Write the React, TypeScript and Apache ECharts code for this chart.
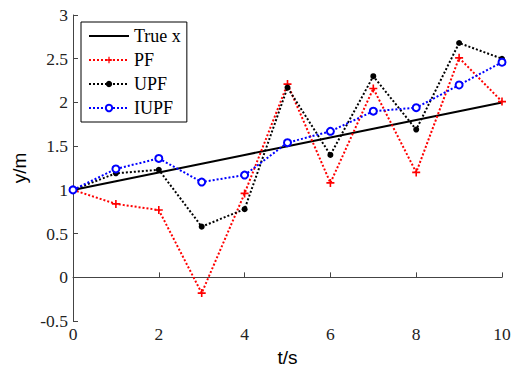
import React, { useEffect, useRef } from "react";
import * as echarts from "echarts";

const tValues = [0, 1, 2, 3, 4, 5, 6, 7, 8, 9, 10];
const trueX = [1.0, 1.1, 1.2, 1.3, 1.4, 1.5, 1.6, 1.7, 1.8, 1.9, 2.0];
const pf = [1.0, 0.84, 0.77, -0.18, 0.96, 2.21, 1.08, 2.16, 1.2, 2.51, 2.01];
const upf = [1.0, 1.19, 1.23, 0.58, 0.78, 2.17, 1.4, 2.3, 1.69, 2.68, 2.5];
const iupf = [1.0, 1.24, 1.36, 1.09, 1.17, 1.54, 1.67, 1.9, 1.94, 2.2, 2.46];
const seriesNames = ["True x", "PF", "UPF", "IUPF"];

const pair = (ys: number[]) => tValues.map((t, i) => [t, ys[i]]);

const plusPath = "path://M3.2,0H4.8V3.2H8V4.8H4.8V8H3.2V4.8H0V3.2H3.2Z";
const solidLineIcon = "path://M0,0H40V2H0Z";

export default function App() {
  const ref = useRef<HTMLDivElement>(null);
  useEffect(() => {
    if (!ref.current) return;
    const chart = echarts.init(ref.current, null, { renderer: "svg" });
    const serif = "Liberation Serif";
    const sans = "Liberation Sans";
    const axisColor = "#444";
    chart.setOption({
      animation: false,
      backgroundColor: "#fff",
      grid: { left: 73, right: 12, top: 15, bottom: 42 },
      legend: {
        orient: "vertical",
        left: 81,
        top: 22,
        data: seriesNames.map((n, i) => (i === 0 ? { name: n, icon: solidLineIcon } : { name: n })),
        itemWidth: 40,
        itemHeight: 8,
        itemGap: 6,
        padding: [5, 6, 5, 7],
        borderColor: "#000",
        borderWidth: 1,
        backgroundColor: "#fff",
        textStyle: { fontFamily: serif, fontSize: 18, color: "#000", lineHeight: 16 },
      },
      xAxis: {
        type: "value",
        min: 0,
        max: 10,
        interval: 2,
        name: "t/s",
        nameLocation: "middle",
        nameGap: 20,
        nameTextStyle: { fontFamily: sans, fontSize: 19, color: "#000" },
        axisLine: { lineStyle: { color: axisColor, width: 1 } },
        axisTick: { inside: true, length: 5, lineStyle: { color: axisColor } },
        axisLabel: { fontFamily: serif, fontSize: 17.5, color: "#222", margin: 4 },
        splitLine: { show: false },
      },
      yAxis: {
        type: "value",
        min: -0.5,
        max: 3,
        interval: 0.5,
        name: "y/m",
        nameLocation: "middle",
        nameGap: 37,
        nameTextStyle: { fontFamily: sans, fontSize: 19, color: "#000" },
        axisLine: { show: true, lineStyle: { color: axisColor, width: 1 } },
        axisTick: { show: true, inside: true, length: 5, lineStyle: { color: axisColor } },
        axisLabel: { fontFamily: serif, fontSize: 17.5, color: "#222", margin: 5 },
        splitLine: { show: false },
      },
      series: [
        {
          name: "True x",
          type: "line",
          data: pair(trueX),
          symbol: "none",
          lineStyle: { color: "#000", width: 2, type: "solid" },
          itemStyle: { color: "#000" },
        },
        {
          name: "PF",
          type: "line",
          data: pair(pf),
          symbol: plusPath,
          symbolSize: 8,
          lineStyle: { color: "#ff0000", width: 2, type: [2, 2] },
          itemStyle: { color: "#ff0000" },
        },
        {
          name: "UPF",
          type: "line",
          data: pair(upf),
          symbol: "circle",
          symbolSize: 6,
          lineStyle: { color: "#000", width: 2, type: [2, 2] },
          itemStyle: { color: "#000" },
        },
        {
          name: "IUPF",
          type: "line",
          data: pair(iupf),
          symbol: "emptyCircle",
          symbolSize: 7,
          lineStyle: { color: "#0000ff", width: 2, type: [2, 2] },
          itemStyle: { color: "#0000ff", borderColor: "#0000ff", borderWidth: 2 },
        },
      ],
    });
    return () => chart.dispose();
  }, []);
  return <div ref={ref} style={{ width: 514, height: 372, position: "absolute", left: 0, top: 0 }} />;
}
